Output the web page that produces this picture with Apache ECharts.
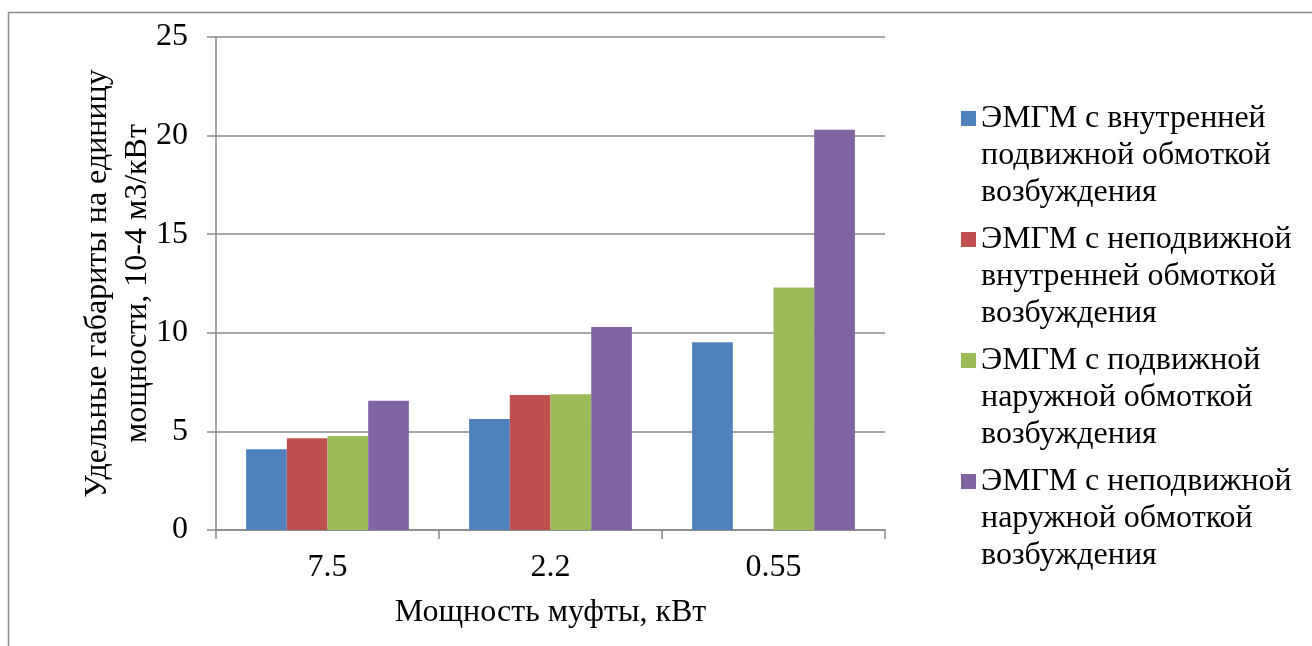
<!DOCTYPE html>
<html>
<head>
<meta charset="utf-8">
<script src="https://cdn.jsdelivr.net/npm/echarts@6/dist/echarts.min.js"></script>
<style>
html,body{margin:0;padding:0;background:#fff;}
#c{width:1312px;height:646px;}
</style>
</head>
<body>
<div id="c"></div>
<script>
var categories = ['7.5', '2.2', '0.55'];
var seriesNames = [
  'ЭМГМ с внутренней\nподвижной обмоткой\nвозбуждения',
  'ЭМГМ с неподвижной\nвнутренней обмоткой\nвозбуждения',
  'ЭМГМ с подвижной\nнаружной обмоткой\nвозбуждения',
  'ЭМГМ с неподвижной\nнаружной обмоткой\nвозбуждения'
];
var innerMoving = [4.1, 5.63, 9.52];
var innerFixed = [4.65, 6.85, null];
var outerMoving = [4.77, 6.88, 12.3];
var outerFixed = [6.56, 10.29, 20.3];
var colors = ['#4F81BD', '#C0504D', '#9BBB59', '#8064A2'];
var yTicks = {min: 0, max: 25, interval: 5};
var yTitle = 'Удельные габариты на единицу\nмощности, 10-4 м3/кВт';
var xTitle = 'Мощность муфты, кВт';

var FONT = '"Liberation Serif", "Times New Roman", serif';
var LH = 37;
var iconH = 15 + 2 * LH;
var iconPath = 'path://M0,0H10V10H0Z M0,' + (iconH / 1.5).toFixed(3) + 'L10,' + (iconH / 1.5).toFixed(3);

var values = [innerMoving, innerFixed, outerMoving, outerFixed];
var series = values.map(function (v, i) {
  return {
    name: seriesNames[i],
    type: 'bar',
    data: v,
    barGap: '0%',
    barCategoryGap: '27%',
    itemStyle: {color: colors[i]},
    emphasis: {disabled: true}
  };
});

var chart = echarts.init(document.getElementById('c'), null, {renderer: 'canvas'});
chart.setOption({
  animation: false,
  color: colors,
  graphic: [{
    type: 'rect',
    shape: {x: 8.5, y: 12.5, width: 1400, height: 700},
    style: {fill: 'none', stroke: '#8c8c8c', lineWidth: 1.5},
    silent: true
  }],
  grid: {left: 216, right: 427, top: 37, bottom: 116, containLabel: false},
  legend: {
    orient: 'vertical',
    left: 956,
    top: 95,
    itemWidth: 15,
    itemHeight: iconH,
    itemGap: 10,
    icon: iconPath,
    selectedMode: false,
    textStyle: {fontFamily: FONT, fontSize: 32, lineHeight: LH, color: '#000'},
    data: seriesNames
  },
  xAxis: {
    type: 'category',
    data: categories,
    name: xTitle,
    nameLocation: 'middle',
    nameGap: 67,
    nameMoveOverlap: false,
    nameTextStyle: {fontFamily: FONT, fontSize: 32, color: '#000'},
    axisLine: {lineStyle: {color: '#888', width: 1.5}},
    axisTick: {show: true, length: 9, lineStyle: {color: '#888', width: 1.5}},
    axisLabel: {fontFamily: FONT, fontSize: 32, color: '#000', margin: 22}
  },
  yAxis: {
    type: 'value',
    min: yTicks.min,
    max: yTicks.max,
    interval: yTicks.interval,
    name: yTitle,
    nameLocation: 'middle',
    nameRotate: 90,
    nameGap: 58,
    nameMoveOverlap: false,
    nameTextStyle: {fontFamily: FONT, fontSize: 32, lineHeight: 40, color: '#000', align: 'center'},
    axisLine: {show: true, lineStyle: {color: '#888', width: 1.5}},
    axisTick: {show: true, length: 9, lineStyle: {color: '#888', width: 1.5}},
    splitLine: {show: true, lineStyle: {color: '#888', width: 1.5}},
    axisLabel: {fontFamily: FONT, fontSize: 32, color: '#000', margin: 28}
  },
  series: series
});
</script>
</body>
</html>
